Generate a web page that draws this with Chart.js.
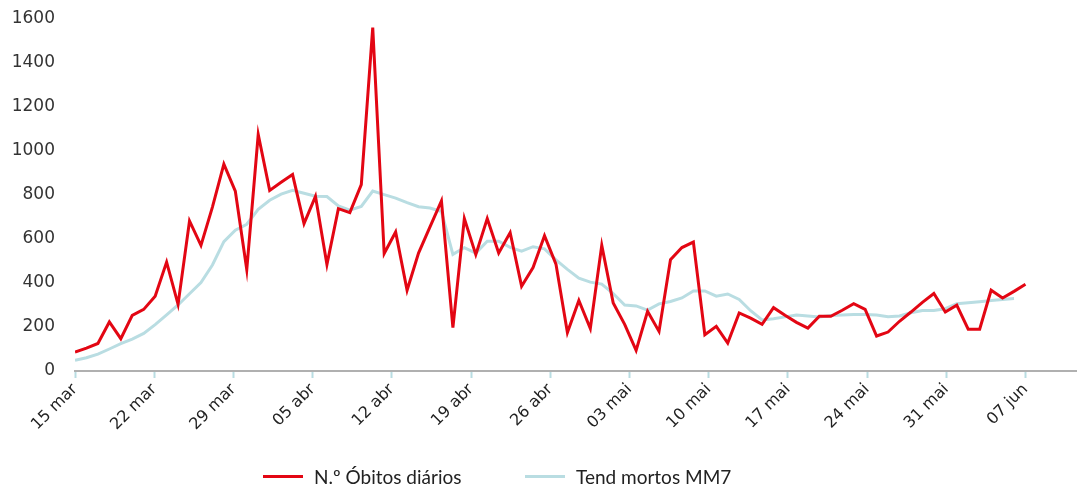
<!DOCTYPE html>
<html>
<head>
<meta charset="utf-8">
<script src="https://cdn.jsdelivr.net/npm/chart.js@4.4.1/dist/chart.umd.min.js"></script>
<style>
    html, body { margin: 0; padding: 0; background: #fff; overflow: hidden; }
    #wrap { position: relative; width: 1077px; height: 488px; }
    #legend {
        position: absolute; left: 263px; top: 465px;
        display: flex; align-items: center;
        font-family: Lato, "Noto Sans", sans-serif; font-size: 19px; color: #222;
    }
    .item { display: flex; align-items: center; }
    .item:first-child { width: 262px; }
    .swatch { width: 40px; height: 3px; margin-right: 11px; }
</style>
</head>
<body>
<div id="wrap">
    <canvas id="obitosChart" width="1077" height="488"></canvas>
    <div id="legend"></div>
</div>
<script>
// Tick labels (weekly, spread over the whole series)
const tickLabels = ['15 mar', '22 mar', '29 mar', '05 abr', '12 abr', '19 abr', '26 abr',
    '03 mai', '10 mai', '17 mai', '24 mai', '31 mai', '07 jun'];

// Daily deaths, one value per day from 15 mar
const obitosDiarios = [
    86, 104, 125, 223, 147, 253, 280, 340, 495, 303,
    682, 571, 745, 940, 818, 461, 1075, 821, 858, 893,
    670, 794, 484, 738, 720, 847, 1561, 534, 632, 367,
    536, 655, 773, 197, 693, 529, 693, 536, 629, 385,
    470, 615, 486, 175, 321, 193, 571, 309, 212, 94,
    271, 180, 506, 561, 586, 165, 203, 127, 264, 240,
    212, 288, 253, 221, 195, 249, 249, 276, 306, 280,
    159, 177, 226, 268, 312, 352, 268, 299, 190, 190,
    367, 332, 362, 394
];

// 7-day moving average (last day missing)
const tendMM7 = [
    49, 60, 77, 100, 124, 145, 171, 211, 255, 300,
    351, 402, 482, 588, 640, 667, 735, 776, 804, 821,
    808, 794, 793, 750, 731, 748, 818, 802, 786, 765,
    747, 741, 725, 530, 561, 536, 590, 590, 562, 545,
    565, 555, 505, 462, 422, 404, 395, 352, 300, 296,
    277, 305, 316, 332, 364, 364, 340, 350, 325, 274,
    232, 238, 246, 254, 250, 245, 252, 255, 257, 257,
    255, 247, 250, 265, 275, 275, 283, 306, 310, 315,
    320, 325, 329, null
];

const seriesNames = ['N.º Óbitos diários', 'Tend mortos MM7'];
const seriesColors = ['#e30613', '#b9dde2'];

const RED = seriesColors[0];
const TEAL = seriesColors[1];
const lastDay = obitosDiarios.length - 1;

function toPoints(values) {
    return values.map((v, i) => ({ x: i, y: v }));
}

const chart = new Chart(document.getElementById('obitosChart'), {
    type: 'line',
    data: {
        datasets: [{
            label: seriesNames[0],
            data: toPoints(obitosDiarios),
            borderColor: RED,
            backgroundColor: RED,
            borderWidth: 3,
            pointRadius: 0,
            tension: 0
        }, {
            label: seriesNames[1],
            data: toPoints(tendMM7),
            borderColor: TEAL,
            backgroundColor: TEAL,
            borderWidth: 3,
            pointRadius: 0,
            tension: 0
        }]
    },
    options: {
        responsive: false,
        animation: false,
        layout: { padding: { top: 19, left: 10, right: 0, bottom: 0 } },
        plugins: {
            legend: { display: false },
            tooltip: { enabled: false }
        },
        scales: {
            x: {
                type: 'linear',
                min: 0,
                max: 87.5,
                afterBuildTicks: (scale) => {
                    scale.ticks = tickLabels.map((_, i) => ({ value: i * lastDay / (tickLabels.length - 1) }));
                },
                afterFit: (scale) => { scale.height = 117; },
                grid: { drawOnChartArea: false, drawTicks: true, tickLength: 7, tickColor: TEAL, tickWidth: 2 },
                border: { display: true, color: '#b0b0b0', width: 2 },
                ticks: {
                    autoSkip: false,
                    minRotation: 45,
                    maxRotation: 45,
                    padding: 2,
                    color: '#222',
                    font: { family: 'DejaVu Sans', size: 16 },
                    callback: (value, index) => tickLabels[index]
                }
            },
            y: {
                min: 0,
                max: 1600,
                afterFit: (scale) => {
                    scale.width = 65;
                    // tick padding is only meant to push labels left
                    scale.paddingTop = 0;
                    scale.paddingBottom = 0;
                },
                grid: { display: false, drawTicks: false },
                border: { display: false },
                ticks: {
                    stepSize: 200,
                    padding: 20,
                    color: '#333',
                    font: { family: 'DejaVu Sans', size: 17 },
                    callback: (value) => String(value)
                }
            }
        }
    }
});

// HTML legend built from the datasets
const legendEl = document.getElementById('legend');
chart.data.datasets.forEach(ds => {
    const item = document.createElement('div');
    item.className = 'item';
    const swatch = document.createElement('span');
    swatch.className = 'swatch';
    swatch.style.background = ds.borderColor;
    const text = document.createElement('span');
    text.textContent = ds.label;
    item.appendChild(swatch);
    item.appendChild(text);
    legendEl.appendChild(item);
});
</script>
</body>
</html>
